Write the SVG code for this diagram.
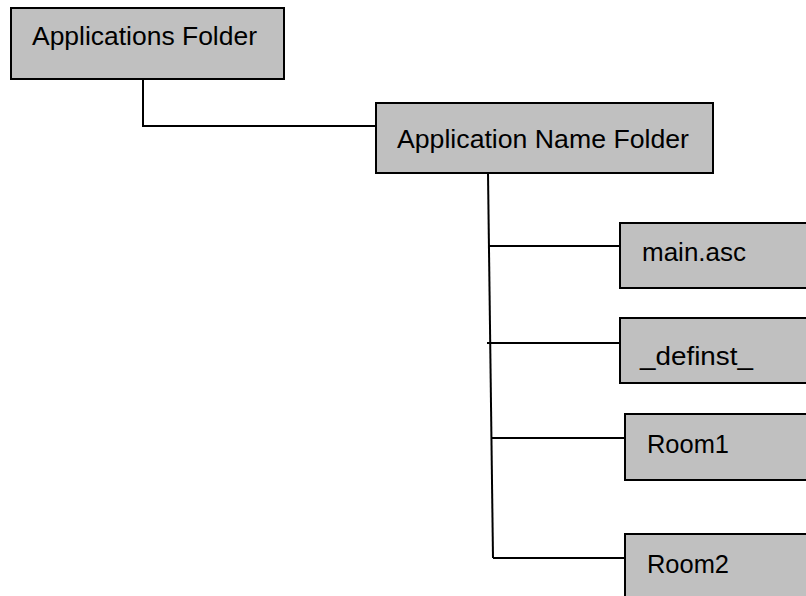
<svg xmlns="http://www.w3.org/2000/svg" width="806" height="596" viewBox="0 0 806 596">
<style>
.box{fill:#c0c0c0;stroke:#000;stroke-width:2}
.lbl{font-family:"Liberation Sans",Arial,sans-serif;font-size:26px;fill:#000}
.ln{stroke:#000;stroke-width:2;fill:none}
</style>
<rect width="806" height="596" fill="#fff"/>
<g id="connectors">
<polyline class="ln" points="143,79 143,126 376,126"/>
<line class="ln" x1="488" y1="173" x2="493" y2="558"/>
<line class="ln" x1="488" y1="246" x2="621" y2="246"/>
<line class="ln" x1="487" y1="343" x2="621" y2="343"/>
<line class="ln" x1="492" y1="438" x2="626" y2="438"/>
<line class="ln" x1="493" y1="558" x2="626" y2="558"/>
</g>
<g id="applications-folder">
<rect class="box" x="11" y="8" width="273" height="71"/>
<text class="lbl" x="32" y="45" textLength="225" lengthAdjust="spacingAndGlyphs">Applications Folder</text>
</g>
<g id="application-name-folder">
<rect class="box" x="376" y="103" width="337" height="70"/>
<text class="lbl" x="397" y="148" textLength="292" lengthAdjust="spacingAndGlyphs">Application Name Folder</text>
</g>
<g id="main-asc">
<rect class="box" x="620" y="223" width="220" height="65"/>
<text class="lbl" x="642" y="261" textLength="104" lengthAdjust="spacingAndGlyphs">main.asc</text>
</g>
<g id="definst">
<rect class="box" x="620" y="318" width="220" height="65"/>
<text class="lbl" x="640" y="365" textLength="113" lengthAdjust="spacingAndGlyphs">_definst_</text>
</g>
<g id="room1">
<rect class="box" x="625" y="414" width="215" height="66"/>
<text class="lbl" x="647" y="453" textLength="82" lengthAdjust="spacingAndGlyphs">Room1</text>
</g>
<g id="room2">
<rect class="box" x="625" y="534" width="215" height="80"/>
<text class="lbl" x="647" y="573" textLength="82" lengthAdjust="spacingAndGlyphs">Room2</text>
</g>
</svg>
